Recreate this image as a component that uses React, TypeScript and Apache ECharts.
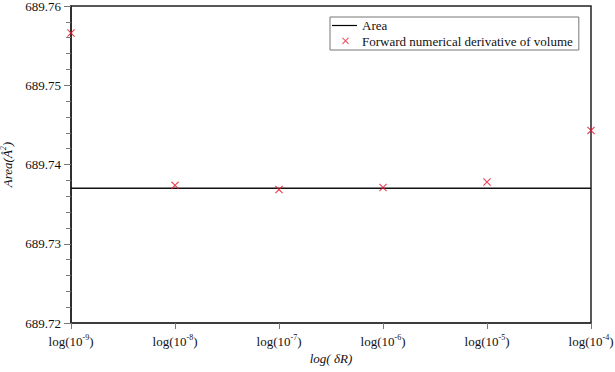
import React, { useEffect, useRef } from "react";
import * as echarts from "echarts";

const xExponents = [-9, -8, -7, -6, -5, -4];
const derivativeValues = [689.7566, 689.73737, 689.73683, 689.7371, 689.7378, 689.7443];
const areaValue = 689.737;
const yTicks = { min: 689.72, max: 689.76, step: 0.01 };

const X_PATH = "path://M0,1 L1,0 L5,4 L9,0 L10,1 L6,5 L10,9 L9,10 L5,6 L1,10 L0,9 L4,5 Z";
const X_LEGEND =
  "path://M-9,-3 L-9,-3 Z M16,15 L16,15 Z M0,1 L1,0 L5,4 L9,0 L10,1 L6,5 L10,9 L9,10 L5,6 L1,10 L0,9 L4,5 Z";
const FONT = "Liberation Serif";

export default function App() {
  const ref = useRef<HTMLDivElement>(null);
  useEffect(() => {
    document.body.style.margin = "0";
    if (!ref.current) return;
    const chart = echarts.init(ref.current, null, { renderer: "svg" });
    chart.setOption({
      animation: false,
      backgroundColor: "#fff",
      textStyle: { fontFamily: FONT },
      grid: {
        left: 71, right: 24, top: 6, bottom: 49,
        outerBoundsMode: "none",
        containLabel: false,
        show: true, borderColor: "#222", borderWidth: 1.5, backgroundColor: "transparent",
      },
      legend: {
        orient: "vertical",
        left: 330,
        top: 17,
        borderColor: "#777",
        borderWidth: 1,
        padding: [2, 6, 2, 2],
        itemGap: 3,
        itemWidth: 25,
        itemHeight: 12,
        textStyle: { fontFamily: FONT, fontSize: 13, color: "#111" },
        data: [
          { name: "Area", icon: "path://M0,0 L25,0 L25,1.2 L0,1.2 Z", itemStyle: { color: "#000" } },
          { name: "Forward numerical derivative of volume", icon: X_LEGEND },
        ],
      },
      xAxis: {
        type: "value",
        min: -9,
        max: -4,
        interval: 1,
        name: "{i|log( δR)}",
        nameLocation: "middle",
        nameGap: 27,
        nameTextStyle: { rich: { i: { fontFamily: FONT, fontStyle: "italic", fontSize: 13, color: "#111" } } },
        axisLine: { lineStyle: { color: "#333", width: 1.5 } },
        axisTick: { length: 6, lineStyle: { color: "#777" } },
        splitLine: { show: false },
        axisLabel: {
          margin: 10,
          formatter: (v: number) => `{b|log(10}{s|${v}}{b|)}`,
          rich: {
            b: { fontFamily: FONT, fontSize: 13, color: "#111" },
            s: { fontFamily: FONT, fontSize: 8, color: "#111", verticalAlign: "top", padding: [0, 0, 8, 0] },
          },
        },
      },
      yAxis: {
        type: "value",
        min: yTicks.min,
        max: yTicks.max,
        interval: yTicks.step,
        name: "{i|Area(Å}{s|2}{i|)}",
        nameLocation: "middle",
        nameGap: 52,
        nameTextStyle: {
          rich: {
            i: { fontFamily: FONT, fontStyle: "italic", fontSize: 13, color: "#111" },
            s: { fontFamily: FONT, fontStyle: "italic", fontSize: 8, color: "#111", padding: [0, 0, 8, 0] },
          },
        },
        axisLine: { show: true, lineStyle: { color: "#222", width: 1.5 } },
        axisTick: { length: 7, lineStyle: { color: "#777" } },
        minorTick: { show: true, splitNumber: 5, length: 5, lineStyle: { color: "#777" } },
        splitLine: { show: false },
        axisLabel: {
          margin: 10,
          fontFamily: FONT,
          fontSize: 13,
          color: "#111",
          formatter: (v: number) => v.toFixed(2),
        },
      },
      series: [
        {
          name: "Area",
          type: "line",
          symbol: "none",
          lineStyle: { color: "#111", width: 1.5 },
          data: [[xExponents[0], areaValue], [xExponents[xExponents.length - 1], areaValue]],
          z: 2,
        },
        {
          name: "Forward numerical derivative of volume",
          type: "scatter",
          symbol: X_PATH,
          symbolSize: 8,
          itemStyle: { color: "#e8142c" },
          data: xExponents.map((x, i) => [x, derivativeValues[i]]),
          clip: false,
          z: 3,
        },
      ],
    });
    return () => chart.dispose();
  }, []);
  return <div ref={ref} style={{ width: 615, height: 372 }} />;
}
